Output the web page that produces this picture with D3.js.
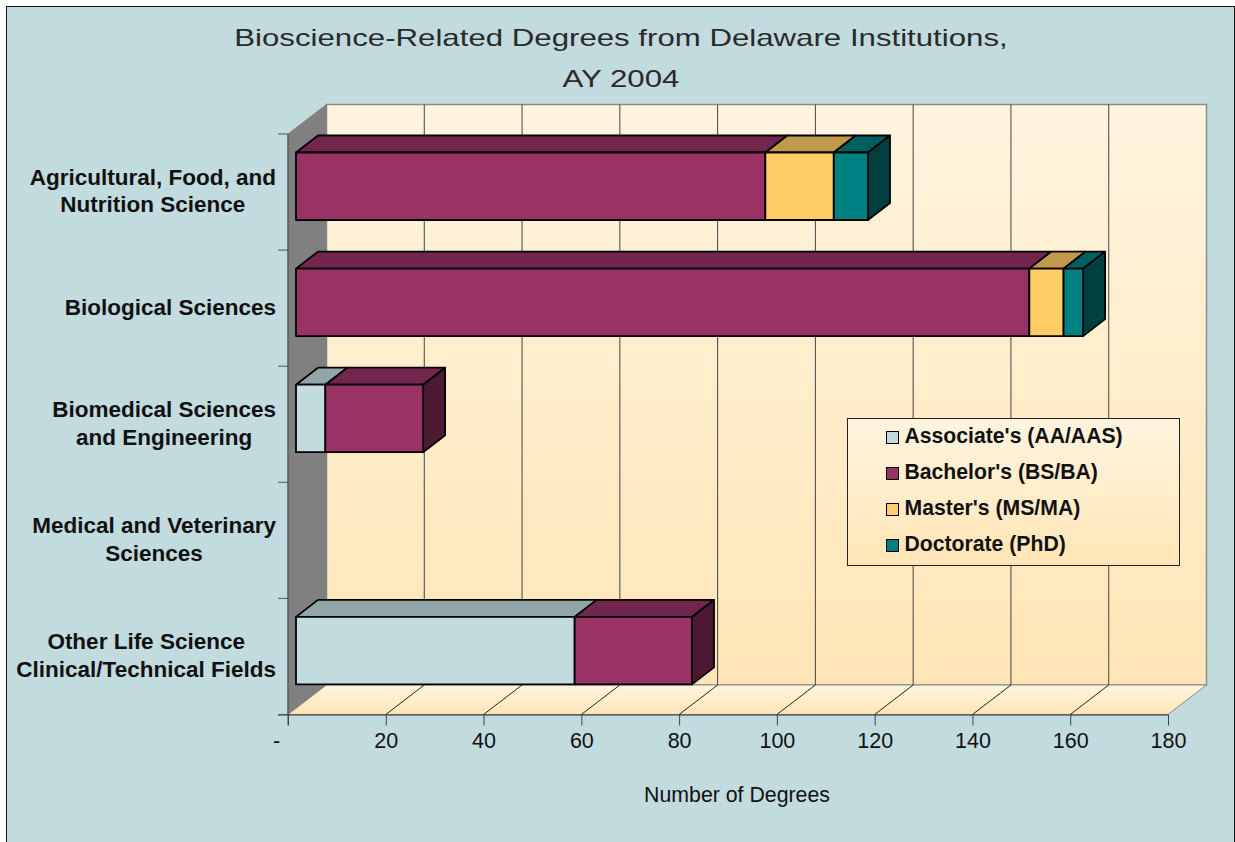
<!DOCTYPE html>
<html>
<head>
<meta charset="utf-8">
<script src="https://cdn.jsdelivr.net/npm/d3@7"></script>
<style>
  html, body { margin: 0; padding: 0; background: #fff; }
  svg { display: block; font-family: "Liberation Sans", Arial, sans-serif; }
</style>
</head>
<body>
<div id="chart"></div>
<script>
const categories = [
  ["Agricultural, Food, and", "Nutrition Science"],
  ["Biological Sciences"],
  ["Biomedical Sciences", "and Engineering"],
  ["Medical and Veterinary", "Sciences"],
  ["Other Life Science", "Clinical/Technical Fields"]
];
const associates  = [0, 0, 6, 0, 57];
const bachelors   = [96, 150, 20, 0, 24];
const masters     = [14, 7, 0, 0, 0];
const doctorates  = [7, 4, 0, 0, 0];
const degreeNames = ["Associate's (AA/AAS)", "Bachelor's (BS/BA)", "Master's (MS/MA)", "Doctorate (PhD)"];
const xTicks      = [0, 20, 40, 60, 80, 100, 120, 140, 160, 180];
const titleLines  = ["Bioscience-Related Degrees from Delaware Institutions,", "AY 2004"];
const xAxisTitle  = "Number of Degrees";

const seriesValues = [associates, bachelors, masters, doctorates];

const colors = {
  page:   "#C2DBDF",
  wall:   "#808080",
  grid:   "#444",
  edge:   "#8c8c8c",
  text:   "#111",
  series: ["#C2DBDF", "#993366", "#FFCC66", "#008080"]
};

const W = 1235, H = 842;

// front plane of the 3D box, and how far the back wall is pushed up/right
const plot  = { left: 288, right: 1168, top: 134, bottom: 714.5 };
const depth = { dx: 38.5, dy: 29.5 };
// the bars sit in the middle of the depth, with their own smaller depth
const bar   = { shift: 8, dx: 22, dy: 17, pad: 18.5, h: 67.5 };

const x = d3.scaleLinear().domain([0, 180]).range([plot.left, plot.right]);
const y = d3.scaleBand().domain(d3.range(categories.length)).range([plot.top, plot.bottom]);

const svg = d3.select("#chart").append("svg").attr("width", W).attr("height", H);

const defs = svg.append("defs");
const cream = defs.append("linearGradient").attr("id", "cream")
  .attr("x1", 0).attr("y1", 0).attr("x2", 0).attr("y2", 1);
cream.append("stop").attr("offset", "0%").attr("stop-color", "#FFF4DF");
cream.append("stop").attr("offset", "100%").attr("stop-color", "#FFE5B6");

const poly = pts => pts.map(p => p.join(",")).join(" ");

// ── Page frame ─────────────────────────────────────────────────
svg.append("rect")
  .attr("x", 6.5).attr("y", 6.5)
  .attr("width", W - 7).attr("height", H)
  .attr("fill", colors.page)
  .attr("stroke", "#111").attr("stroke-width", 1);

// ── Title: the original glyphs are stretched sideways ──────────
const titleStretch = 1.3;
svg.selectAll(".title").data(titleLines).enter().append("text")
  .attr("class", "title")
  .attr("x", 621)
  .attr("y", (d, i) => 46 + i * 41)
  .attr("text-anchor", "middle")
  .attr("fill", "#2a2a2a")
  .style("font-size", "24px")
  .text(d => d)
  .each(function () {
    const len = this.getComputedTextLength();
    d3.select(this)
      .attr("lengthAdjust", "spacingAndGlyphs")
      .attr("textLength", len * titleStretch);
  });

// ── Back wall, side wall, floor ────────────────────────────────
const backL = plot.left + depth.dx, backR = plot.right + depth.dx;
const backT = plot.top - depth.dy,  backB = plot.bottom - depth.dy;

svg.append("rect")
  .attr("x", backL).attr("y", backT)
  .attr("width", backR - backL).attr("height", backB - backT)
  .attr("fill", "url(#cream)")
  .attr("stroke", colors.edge).attr("stroke-width", 1.5);

svg.append("polygon")
  .attr("points", poly([[plot.left, plot.top], [backL, backT], [backL, backB], [plot.left, plot.bottom]]))
  .attr("fill", colors.wall)
  .attr("stroke", colors.wall);

svg.append("polygon")
  .attr("points", poly([[plot.left, plot.bottom], [backL, backB], [backR, backB], [plot.right, plot.bottom]]))
  .attr("fill", "url(#cream)")
  .attr("stroke", colors.edge).attr("stroke-width", 1);

// ── Gridlines (wall + floor) ───────────────────────────────────
const inner = xTicks.filter(t => t > 0 && t < 180);

svg.selectAll(".grid-wall").data(inner).enter().append("line")
  .attr("class", "grid-wall")
  .attr("x1", d => x(d) + depth.dx).attr("x2", d => x(d) + depth.dx)
  .attr("y1", backT).attr("y2", backB)
  .attr("stroke", colors.grid).attr("stroke-width", 1);

svg.selectAll(".grid-floor").data(inner).enter().append("line")
  .attr("class", "grid-floor")
  .attr("x1", d => x(d)).attr("y1", plot.bottom)
  .attr("x2", d => x(d) + depth.dx).attr("y2", backB)
  .attr("stroke", "#222").attr("stroke-width", 1);

// ── Axes ───────────────────────────────────────────────────────
const xAxis = svg.append("g")
  .attr("transform", `translate(0,${plot.bottom})`)
  .call(d3.axisBottom(x).tickValues(xTicks).tickSize(11).tickPadding(7)
    .tickFormat(d => d === 0 ? "-" : d))
  .call(g => g.select(".domain").attr("d", `M${plot.left - 10},0.5H${plot.right}`).attr("stroke", "#333"));

xAxis.selectAll("text")
  .attr("fill", colors.text)
  .style("font-size", "21.5px")
  .style("font-family", "inherit")
  .attr("dx", d => d === 0 ? -12 : 0);
xAxis.selectAll(".tick line").attr("stroke", "#444");

// category axis ticks sit on the band edges
const yEdges = categories.map((c, i) => y(i)).concat(plot.bottom);
svg.selectAll(".y-tick").data(yEdges).enter().append("line")
  .attr("class", "y-tick")
  .attr("x1", plot.left - 10).attr("x2", plot.left)
  .attr("y1", d => d).attr("y2", d => d)
  .attr("stroke", "#555");
svg.append("line")
  .attr("x1", plot.left).attr("x2", plot.left)
  .attr("y1", plot.top).attr("y2", plot.bottom + 11)
  .attr("stroke", "#444");

svg.append("text")
  .attr("x", 737).attr("y", 802)
  .attr("text-anchor", "middle")
  .attr("fill", colors.text)
  .style("font-size", "21.3px")
  .text(xAxisTitle);

// ── Category labels: block right aligned, lines centred in block ──
const labelRight = 276, lineH = 27.5;
categories.forEach((lines, i) => {
  const g = svg.append("g");
  const texts = g.selectAll("text").data(lines).enter().append("text")
    .attr("text-anchor", "middle")
    .attr("fill", colors.text)
    .style("font-size", "22.5px")
    .style("font-weight", "700")
    .text(d => d);
  const maxW = d3.max(texts.nodes(), n => n.getComputedTextLength());
  const cy = y(i) + y.bandwidth() / 2;
  texts
    .attr("x", labelRight - maxW / 2)
    .attr("y", (d, j) => cy + 6.5 + (j - (lines.length - 1) / 2) * lineH);
});

// ── Stacked 3D bars ────────────────────────────────────────────
categories.forEach((c, i) => {
  const top = y(i) + bar.pad, bot = top + bar.h;
  let run = 0;
  const segs = [];
  seriesValues.forEach((vals, s) => {
    if (vals[i] > 0) segs.push({ s, a: run, b: run + vals[i] });
    run += vals[i];
  });
  const g = svg.append("g").attr("stroke", "#000").attr("stroke-width", 1.8).attr("stroke-linejoin", "round");
  const px = v => x(v) + bar.shift;
  segs.forEach((d, k) => {
    const base = d3.color(colors.series[d.s]);
    g.append("polygon")
      .attr("points", poly([[px(d.a), top], [px(d.a) + bar.dx, top - bar.dy], [px(d.b) + bar.dx, top - bar.dy], [px(d.b), top]]))
      .attr("fill", base.darker(0.8));
    if (k === segs.length - 1) {
      g.append("polygon")
        .attr("points", poly([[px(d.b), top], [px(d.b) + bar.dx, top - bar.dy], [px(d.b) + bar.dx, bot - bar.dy], [px(d.b), bot]]))
        .attr("fill", base.darker(2));
    }
    g.append("rect")
      .attr("x", px(d.a)).attr("y", top)
      .attr("width", px(d.b) - px(d.a)).attr("height", bar.h)
      .attr("fill", base);
  });
});

// ── Legend ─────────────────────────────────────────────────────
const legend = svg.append("g").attr("transform", "translate(847.5,418.5)");
legend.append("rect")
  .attr("width", 332).attr("height", 147)
  .attr("fill", "url(#cream)")
  .attr("stroke", "#222");

const rows = legend.selectAll(".row").data(degreeNames).enter().append("g")
  .attr("class", "row")
  .attr("transform", (d, i) => `translate(0,${18 + i * 36})`);
rows.append("rect")
  .attr("x", 39).attr("y", -5)
  .attr("width", 12).attr("height", 12)
  .attr("fill", (d, i) => colors.series[i])
  .attr("stroke", "#000").attr("stroke-width", 1);
rows.append("text")
  .attr("x", 57).attr("y", 6.5)
  .attr("fill", colors.text)
  .style("font-size", "21.2px")
  .style("font-weight", "700")
  .text(d => d);
</script>
</body>
</html>
